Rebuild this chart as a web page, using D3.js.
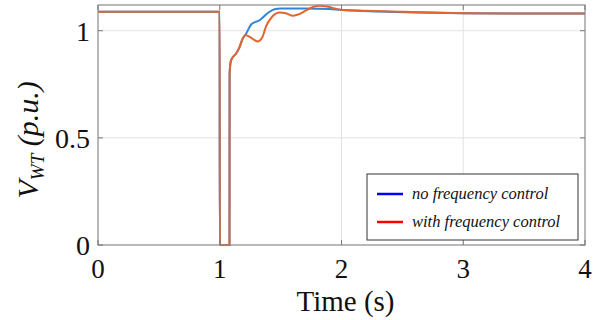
<!DOCTYPE html>
<html lang="en">
<head>
<meta charset="UTF-8" />
<title>V_WT response</title>
<script src="https://d3js.org/d3.v7.min.js"></script>
<style>
  body { margin: 0; background: #fff; }
  svg { display: block; }
  text { font-family: "Liberation Serif", "DejaVu Serif", serif; fill: #111; }
</style>
</head>
<body>
<div id="chart"></div>
<script>
// time (s) and voltage (p.u.)
const timeNoCtrl = [0, 0.999, 1.0, 1.08, 1.081, 1.09, 1.1, 1.13, 1.16, 1.19, 1.21, 1.26, 1.33, 1.40, 1.45, 1.5, 1.7, 1.9, 2.0, 2.3, 2.6, 3.0, 3.5, 4.0];
const voltNoCtrl = [1.089, 1.089, 0, 0, 0.80, 0.855, 0.87, 0.89, 0.92, 0.965, 0.98, 1.03, 1.05, 1.085, 1.10, 1.104, 1.104, 1.101, 1.097, 1.09, 1.085, 1.082, 1.08, 1.08];

const timeCtrl = [0, 0.999, 1.0, 1.08, 1.081, 1.09, 1.1, 1.13, 1.16, 1.19, 1.21, 1.25, 1.31, 1.35, 1.38, 1.43, 1.49, 1.55, 1.6, 1.64, 1.72, 1.77, 1.82, 1.89, 1.99, 2.2, 2.5, 3.0, 3.5, 4.0];
const voltCtrl = [1.089, 1.089, 0, 0, 0.80, 0.855, 0.87, 0.89, 0.92, 0.965, 0.98, 0.97, 0.95, 0.97, 1.02, 1.065, 1.085, 1.08, 1.07, 1.075, 1.098, 1.112, 1.117, 1.112, 1.098, 1.093, 1.088, 1.082, 1.08, 1.08];

const xTicks = [0, 1, 2, 3, 4];
const yTicks = [0, 0.5, 1];
const legendLabels = ["no frequency control", "with frequency control"];

const width = 603, height = 320;
const margin = { left: 98, right: 18, top: 5, bottom: 75 };
const serif = "'Liberation Serif', 'DejaVu Serif', serif";

const svg = d3.select("#chart").append("svg")
  .attr("width", width).attr("height", height);

const x = d3.scaleLinear().domain([0, 4]).range([margin.left, width - margin.right]);
const y = d3.scaleLinear().domain([0, 1.12]).range([height - margin.bottom, margin.top]);

// grid
svg.append("g").selectAll("line").data(xTicks.slice(1, -1)).join("line")
  .attr("x1", d => x(d)).attr("x2", d => x(d))
  .attr("y1", y(0)).attr("y2", y(1.12))
  .attr("stroke", "#e3e3e3").attr("stroke-width", 1);
svg.append("g").selectAll("line").data(yTicks.slice(1)).join("line")
  .attr("x1", x(0)).attr("x2", x(4))
  .attr("y1", d => y(d)).attr("y2", d => y(d))
  .attr("stroke", "#e3e3e3").attr("stroke-width", 1);

// curves
const line = d3.line().x(d => x(d[0])).y(d => y(d[1])).curve(d3.curveMonotoneX);
const noCtrl = timeNoCtrl.map((t, i) => [t, voltNoCtrl[i]]);
const ctrl = timeCtrl.map((t, i) => [t, voltCtrl[i]]);

svg.append("path").datum(noCtrl)
  .attr("d", line)
  .attr("fill", "none").attr("stroke", "#2f86d6").attr("stroke-width", 2);
svg.append("path").datum(ctrl)
  .attr("d", line)
  .attr("fill", "none").attr("stroke", "#e2652f").attr("stroke-width", 2);

// box + ticks
svg.append("rect")
  .attr("x", x(0)).attr("y", y(1.12))
  .attr("width", x(4) - x(0)).attr("height", y(0) - y(1.12))
  .attr("fill", "none").attr("stroke", "#8a8a8a").attr("stroke-width", 1.2);

const tickLen = 5;
const tg = svg.append("g").attr("stroke", "#777").attr("stroke-width", 1);
xTicks.forEach(d => {
  tg.append("line").attr("x1", x(d)).attr("x2", x(d)).attr("y1", y(0)).attr("y2", y(0) - tickLen);
  tg.append("line").attr("x1", x(d)).attr("x2", x(d)).attr("y1", y(1.12)).attr("y2", y(1.12) + tickLen);
});
yTicks.forEach(d => {
  tg.append("line").attr("x1", x(0)).attr("x2", x(0) + tickLen).attr("y1", y(d)).attr("y2", y(d));
  tg.append("line").attr("x1", x(4)).attr("x2", x(4) - tickLen).attr("y1", y(d)).attr("y2", y(d));
});

// tick labels
svg.append("g").selectAll("text").data(xTicks).join("text")
  .attr("font-family", serif).attr("font-size", 27)
  .attr("x", d => x(d)).attr("y", y(0) + 33)
  .attr("text-anchor", "middle")
  .text(d => d3.format("")(d));
svg.append("g").selectAll("text").data(yTicks).join("text")
  .attr("font-family", serif).attr("font-size", 28)
  .attr("x", x(0) - 8).attr("y", d => y(d) + 10)
  .attr("text-anchor", "end")
  .text(d => d3.format("")(d));

// axis titles
svg.append("text")
  .attr("font-family", serif).attr("font-size", 29)
  .attr("x", (x(0) + x(4)) / 2 + 4).attr("y", 311)
  .attr("text-anchor", "middle")
  .text("Time (s)");

const yl = svg.append("text")
  .attr("font-family", serif).attr("font-size", 30)
  .attr("transform", `translate(38,${y(0.5) + 2}) rotate(-90)`)
  .attr("text-anchor", "middle")
  .style("font-style", "italic");
yl.append("tspan").text("V");
yl.append("tspan").attr("dy", 6).attr("font-size", 19).text("WT");
yl.append("tspan").attr("dy", -6).text(" (p.u.)");

// legend
const lg = svg.append("g").attr("transform", "translate(367,174)");
lg.append("rect").attr("width", 211).attr("height", 66)
  .attr("fill", "#fff").attr("stroke", "#333").attr("stroke-width", 1);
const legendColors = ["#0000ff", "#ff0000"];
legendLabels.forEach((lab, i) => {
  const yy = 20 + i * 28;
  lg.append("line").attr("x1", 10).attr("x2", 36).attr("y1", yy).attr("y2", yy)
    .attr("stroke", legendColors[i]).attr("stroke-width", 2.5);
  lg.append("text")
    .attr("font-family", serif).attr("font-size", 16.5).attr("font-style", "italic")
    .attr("x", 45).attr("y", yy + 5).text(lab);
});
</script>
</body>
</html>
